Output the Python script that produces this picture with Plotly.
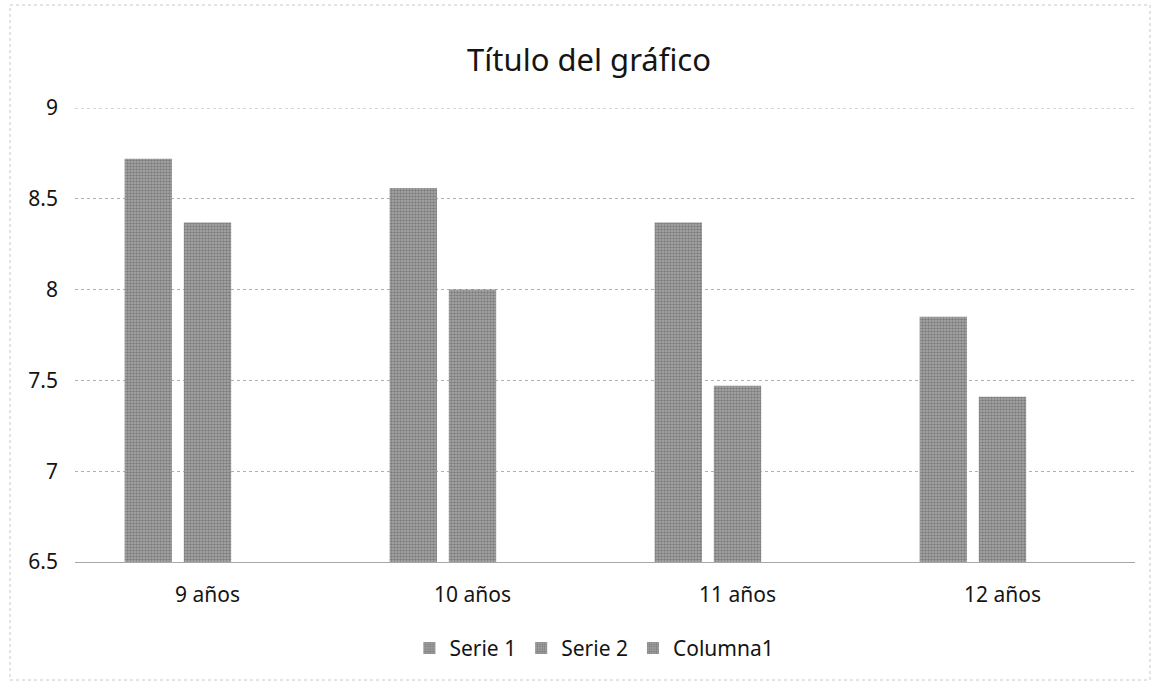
import plotly.graph_objects as go

categories = ["9 años", "10 años", "11 años", "12 años"]
serie1 = [8.72, 8.56, 8.37, 7.85]
serie2 = [8.37, 8.00, 7.47, 7.41]
columna1 = [None, None, None, None]
y_ticks = [6.5, 7, 7.5, 8, 8.5, 9]

font = "Noto Sans"
text_color = "#141414"
pattern = dict(shape=".", size=3, solidity=0.55, fgcolor="#4e4e4e", bgcolor="#acacac")

fig = go.Figure()
for name, vals in [("Serie 1", serie1), ("Serie 2", serie2), ("Columna1", columna1)]:
    fig.add_trace(go.Bar(name=name, x=categories, y=vals,
                         marker=dict(color="#858585", pattern=pattern, line=dict(width=0))))

fig.update_layout(
    width=1155, height=685,
    margin=dict(l=75, r=20, t=108, b=123),
    paper_bgcolor="white", plot_bgcolor="white",
    barmode="group", bargap=0.33, bargroupgap=0.2,
    title=dict(text="Título del gráfico", x=0.51, xanchor="center", y=0.912, yanchor="middle",
               font=dict(family=font, size=31, color=text_color)),
    font=dict(family=font, color=text_color),
    showlegend=True,
    legend=dict(orientation="h", x=0.49, xanchor="center", y=-0.19, yanchor="middle",
                font=dict(size=21, color=text_color), traceorder="normal"),
    xaxis=dict(showline=True, linecolor="#a8a8a8", linewidth=1, ticks="",
               tickfont=dict(size=21, color=text_color), ticklabelstandoff=14),
    yaxis=dict(range=[y_ticks[0], y_ticks[-1]], tickvals=y_ticks, showgrid=True, gridcolor="#b0b0b0",
               griddash="dot", gridwidth=1, zeroline=False, showline=False,
               tickfont=dict(size=21, color=text_color), ticklabelstandoff=16),
)

# top gridline (at the upper range edge, which plotly omits)
fig.add_shape(type="line", xref="paper", yref="y", x0=0, x1=1, y0=y_ticks[-1], y1=y_ticks[-1],
              line=dict(color="#b0b0b0", width=1, dash="dot"), layer="below")

# dotted chart frame
fig.add_shape(type="rect", xref="paper", yref="paper",
              x0=(10 - 75) / 1060, x1=(1150 - 75) / 1060,
              y0=(562 - 680) / 454, y1=(562 - 5) / 454,
              line=dict(color="#c8c8c8", width=1, dash="dot"))

fig.write_html("out.html")
